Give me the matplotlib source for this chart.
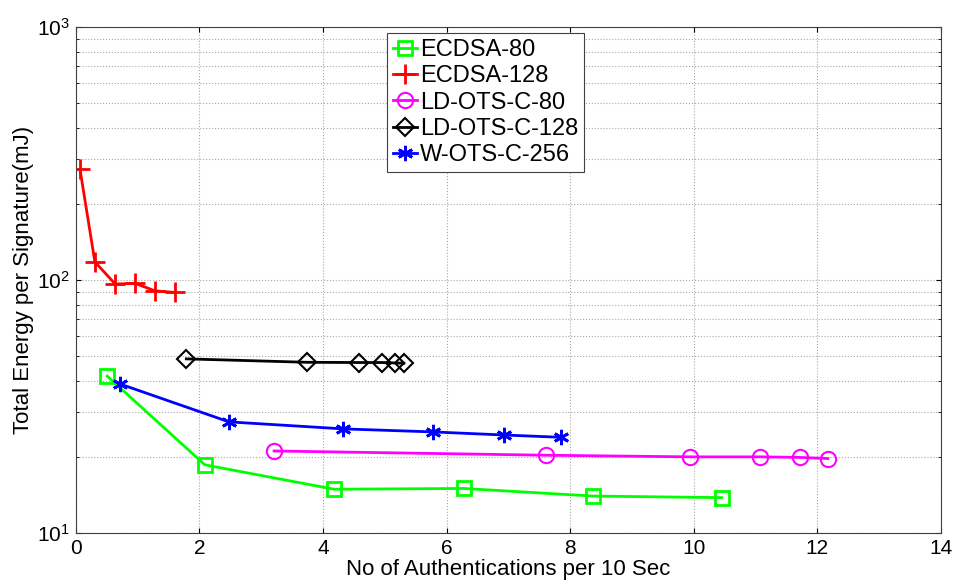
import matplotlib.pyplot as plt
from matplotlib.ticker import MultipleLocator

plt.rcParams['font.family'] = ['Liberation Sans', 'DejaVu Sans']
plt.rcParams['mathtext.default'] = 'regular'

# ECDSA-80
ecdsa80_x = [0.51, 2.09, 4.18, 6.28, 8.37, 10.45]
ecdsa80_y = [41.7, 18.6, 14.9, 15.0, 14.0, 13.8]

# ECDSA-128
ecdsa128_x = [0.07, 0.31, 0.64, 0.96, 1.28, 1.61]
ecdsa128_y = [274, 118, 96.4, 97, 90.7, 89.3]

# LD-OTS-C-80
ldots80_x = [3.21, 7.61, 9.94, 11.07, 11.72, 12.17]
ldots80_y = [21.1, 20.3, 20.0, 20.0, 19.9, 19.7]

# LD-OTS-C-128
ldots128_x = [1.79, 3.74, 4.58, 4.96, 5.17, 5.31]
ldots128_y = [48.8, 47.3, 47.2, 47.2, 47.0, 46.9]

# W-OTS-C-256
wots256_x = [0.72, 2.48, 4.33, 5.78, 6.93, 7.85]
wots256_y = [38.8, 27.5, 25.8, 25.1, 24.4, 23.9]

fig = plt.figure(figsize=(9.63, 5.88), dpi=100)
ax = fig.add_axes([0.0786, 0.0935, 0.8985, 0.8605])

lw = 2
ms = 10
ax.plot(ecdsa80_x, ecdsa80_y, marker='s', color='#00ff00', lw=lw, ms=ms,
        mfc='none', mew=2, label='ECDSA-80')
ax.plot(ecdsa128_x, ecdsa128_y, marker='+', color='red', lw=lw, ms=14,
        mew=2, label='ECDSA-128')
ax.plot(ldots80_x, ldots80_y, marker='o', color='magenta', lw=lw, ms=11,
        mfc='none', mew=1.5, label='LD-OTS-C-80')
ax.plot(ldots128_x, ldots128_y, marker='D', color='black', lw=lw, ms=9,
        mfc='none', mew=1.5, label='LD-OTS-C-128')
ax.plot(wots256_x, wots256_y, marker=(6, 2, 0), color='blue', lw=lw, ms=11,
        mew=2, label='W-OTS-C-256')

ax.set_yscale('log')
ax.set_xlim(0, 14)
ax.set_ylim(10, 1000)
ax.xaxis.set_major_locator(MultipleLocator(2))

ax.grid(True, which='both', ls=':', color='#a8a8a8', lw=0.8)
ax.tick_params(which='both', direction='in', top=True, right=True, labelsize=15,
               pad=4)
for s in ax.spines.values():
    s.set_color('#404040')

ax.set_xlabel('No of Authentications per 10 Sec', fontsize=16, labelpad=1)
ax.set_ylabel('Total Energy per Signature(mJ)', fontsize=16, labelpad=2)

leg = ax.legend(loc='upper left', bbox_to_anchor=(0.36, 0.988), fontsize=17,
                handlelength=1.0, handletextpad=0.15, borderpad=0.25,
                labelspacing=0.18, fancybox=False, framealpha=1,
                edgecolor='#404040', borderaxespad=0)
leg.get_frame().set_linewidth(0.8)

fig.savefig('out.png', dpi=100)
